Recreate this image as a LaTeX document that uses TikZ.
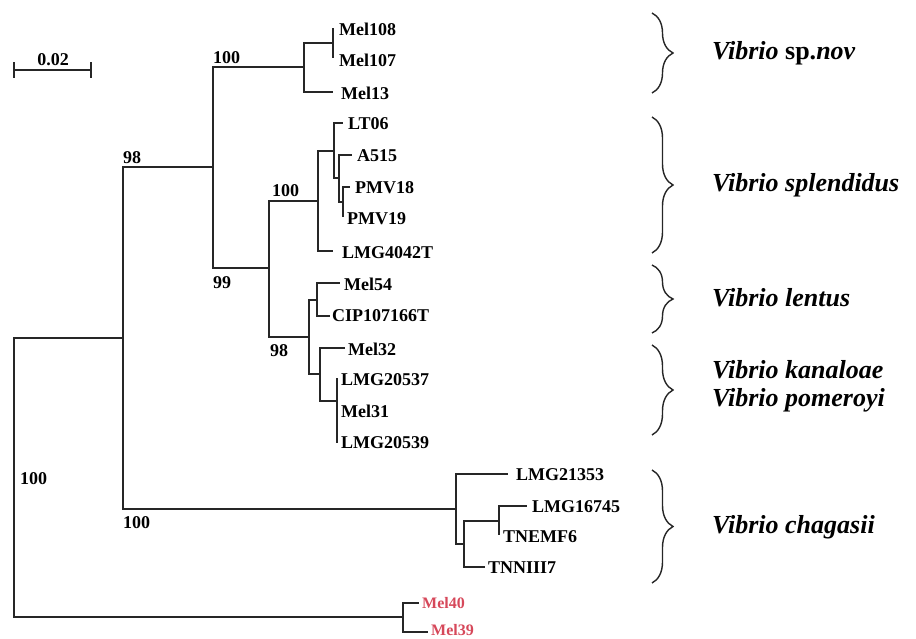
\documentclass[tikz,border=0pt]{standalone}
\usepackage{fontspec}
\setmainfont{Liberation Serif}
\usetikzlibrary{decorations.pathreplacing}
\definecolor{outred}{RGB}{214,72,90}
\begin{document}
\begin{tikzpicture}[x=1pt,y=-1pt,
  br/.style={line width=1.4pt, black!85},
  leaf/.style={anchor=west, inner sep=0pt, font=\bfseries\fontsize{18}{18}\selectfont},
  boot/.style={anchor=west, inner sep=0pt, font=\bfseries\fontsize{18}{18}\selectfont},
  redleaf/.style={anchor=west, inner sep=0pt, text=outred, font=\bfseries\fontsize{16}{16}\selectfont},
  species/.style={anchor=west, inner sep=0pt, font=\bfseries\itshape\fontsize{26}{26}\selectfont},
  bracebox/.style={line width=1.4pt, black!85, decorate, decoration={brace, amplitude=21pt}}]
\useasboundingbox (0,0) rectangle (916,639);

% scale bar
\coordinate (sbL) at (14,70);
\coordinate (sbR) at (91,70);
\draw[br] (sbL) -- (sbR);
\draw[br] ([yshift=-8pt]sbL) -- ([yshift=8pt]sbL);
\draw[br] ([yshift=-8pt]sbR) -- ([yshift=8pt]sbR);
\node[boot, anchor=center] (sblab) at (53,60) {0.02};

% internal nodes
\coordinate (R) at (14,478);
\coordinate (N1) at (123,338);
\coordinate (N2) at (403,617);
\coordinate (N3) at (213,167);
\coordinate (Nc) at (456,509);
\coordinate (N4) at (304,67);
\coordinate (N5) at (333,43);
\coordinate (H) at (269,268);
\coordinate (N6) at (318,201);
\coordinate (A) at (334,151);
\coordinate (B) at (339,178);
\coordinate (C) at (343,202);
\coordinate (E) at (309,337);
\coordinate (D) at (317,300);
\coordinate (F) at (320,374);
\coordinate (G) at (337,401);
\coordinate (Nd) at (464,544);
\coordinate (Ne) at (499,521);

% leaf ends
\coordinate (e108) at (333,28);
\coordinate (e107) at (333,58);
\coordinate (e13) at (333,92);
\coordinate (eLT06) at (343,123);
\coordinate (eA515) at (352,155);
\coordinate (ePMV18) at (350,187);
\coordinate (ePMV19) at (343,217);
\coordinate (e4042) at (333,251);
\coordinate (e54) at (340,283);
\coordinate (eCIP) at (330,316);
\coordinate (e32) at (345,348);
\coordinate (e20537) at (337,378);
\coordinate (e31) at (337,411);
\coordinate (e20539) at (337,443);
\coordinate (e21353) at (508,474);
\coordinate (e16745) at (527,506);
\coordinate (eEMF6) at (499,535);
\coordinate (eNNIII7) at (485,567);
\coordinate (e40) at (419,603);
\coordinate (e39) at (428,632);

% branches
\draw[br] (R) |- (N1);
\draw[br] (R) |- (N2);
\draw[br] (N1) |- (N3);
\draw[br] (N1) |- (Nc);
\draw[br] (N3) |- (N4);
\draw[br] (N3) |- (H);
\draw[br] (N4) |- (N5);
\draw[br] (N4) |- (e13);
\draw[br] (N5) |- (e108);
\draw[br] (N5) |- (e107);
\draw[br] (H) |- (N6);
\draw[br] (H) |- (E);
\draw[br] (N6) |- (A);
\draw[br] (N6) |- (e4042);
\draw[br] (A) |- (eLT06);
\draw[br] (A) |- (B);
\draw[br] (B) |- (eA515);
\draw[br] (B) |- (C);
\draw[br] (C) |- (ePMV18);
\draw[br] (C) |- (ePMV19);
\draw[br] (E) |- (D);
\draw[br] (E) |- (F);
\draw[br] (D) |- (e54);
\draw[br] (D) |- (eCIP);
\draw[br] (F) |- (e32);
\draw[br] (F) |- (G);
\draw[br] (G) |- (e20537);
\draw[br] (G) |- (e31);
\draw[br] (G) |- (e20539);
\draw[br] (Nc) |- (e21353);
\draw[br] (Nc) |- (Nd);
\draw[br] (Nd) |- (Ne);
\draw[br] (Nd) |- (eNNIII7);
\draw[br] (Ne) |- (e16745);
\draw[br] (Ne) |- (eEMF6);
\draw[br] (N2) |- (e40);
\draw[br] (N2) |- (e39);

% leaf labels
\node[leaf] (l108) at (339,29) {Mel108};
\node[leaf] (l107) at (339,60) {Mel107};
\node[leaf] (l13) at (341,93) {Mel13};
\node[leaf] (lLT06) at (348,124) {LT06};
\node[leaf] (lA515) at (357,156) {A515};
\node[leaf] (lPMV18) at (355,188) {PMV18};
\node[leaf] (lPMV19) at (347,219) {PMV19};
\node[leaf] (l4042) at (342,253) {LMG4042T};
\node[leaf] (l54) at (344,284) {Mel54};
\node[leaf] (lCIP) at (332,316) {CIP107166T};
\node[leaf] (l32) at (348,349) {Mel32};
\node[leaf] (l20537) at (341,380) {LMG20537};
\node[leaf] (l31) at (341,411) {Mel31};
\node[leaf] (l20539) at (341,443) {LMG20539};
\node[leaf] (l21353) at (516,475) {LMG21353};
\node[leaf] (l16745) at (532,507) {LMG16745};
\node[leaf] (lEMF6) at (503,537) {TNEMF6};
\node[leaf] (lNNIII7) at (488,568) {TNNIII7};
\node[redleaf] (l40) at (422,603) {Mel40};
\node[redleaf] (l39) at (431,630) {Mel39};

% bootstrap values
\node[boot] (b1) at (213,57.5) {100};
\node[boot] (b2) at (123,157.5) {98};
\node[boot] (b3) at (272,191) {100};
\node[boot] (b4) at (213,283) {99};
\node[boot] (b5) at (270,350.5) {98};
\node[boot] (b6) at (20,479) {100};
\node[boot] (b7) at (123,523) {100};

% braces
\draw[bracebox] (652,13) -- (652,93);
\draw[bracebox] (652,117) -- (652,253);
\draw[bracebox] (652,265) -- (652,333);
\draw[bracebox] (652,345) -- (652,435);
\draw[bracebox] (652,470) -- (652,583);

% species labels
\node[species] (s1) at (712,53) {Vibrio \upshape sp.\itshape nov};
\node[species] (s2) at (712,185) {Vibrio splendidus};
\node[species] (s3) at (712,298) {Vibrio lentus};
\node[species] (s4) at (712,370) {Vibrio kanaloae};
\node[species] (s5) at (712,400) {Vibrio pomeroyi};
\node[species] (s6) at (712,527) {Vibrio chagasii};
\end{tikzpicture}
\end{document}
